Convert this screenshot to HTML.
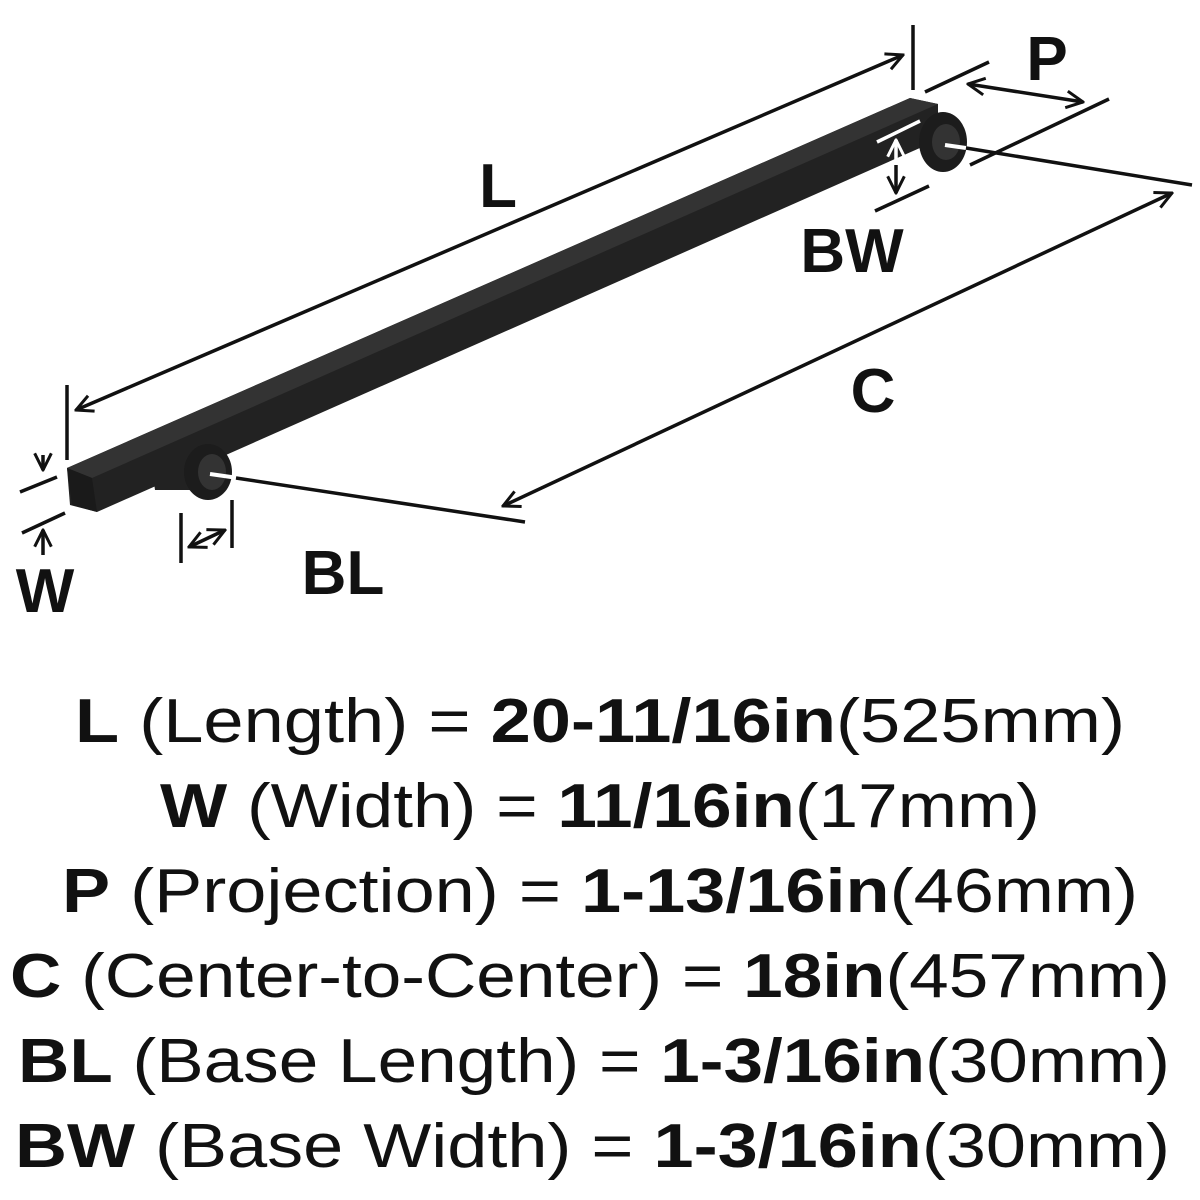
<!DOCTYPE html>
<html><head><meta charset="utf-8"><style>
html,body{margin:0;padding:0;background:#fff;}
svg{display:block;}
text{font-family:"Liberation Sans",sans-serif;fill:#111;}
</style></head><body>
<svg width="1200" height="1200" viewBox="0 0 1200 1200" xmlns="http://www.w3.org/2000/svg">
<defs>
<marker id="a" viewBox="0 0 12 12" refX="11" refY="6" markerWidth="20" markerHeight="20" markerUnits="userSpaceOnUse" orient="auto-start-reverse">
<path d="M1,1 L11,6 L1,11" fill="none" stroke="#111" stroke-width="1.8"/></marker>
<marker id="aw" viewBox="0 0 12 12" refX="11" refY="6" markerWidth="20" markerHeight="20" markerUnits="userSpaceOnUse" orient="auto-start-reverse">
<path d="M1,1 L11,6 L1,11" fill="none" stroke="#fff" stroke-width="1.8"/></marker>
</defs>
<g stroke="#111" stroke-width="3.5" fill="none">
<polygon points="67,468 910,98 938,104 938,140 97,512 70,505" fill="#222" stroke="none"/>
<polygon points="67,468 910,98 938,104 92,478" fill="#333" stroke="none"/>
<polygon points="67,468 92,478 97,512 72,505" fill="#1a1a1a" stroke="none"/>
<path d="M150,455 L200,450 L200,490 L155,490 Z" fill="#222" stroke="none"/>
<ellipse cx="208" cy="472" rx="24" ry="28" fill="#1c1c1c" stroke="none"/>
<ellipse cx="212" cy="472" rx="14" ry="18" fill="#333" stroke="none"/>
<ellipse cx="943" cy="142" rx="24" ry="30" fill="#1c1c1c" stroke="none"/>
<ellipse cx="946" cy="142" rx="14" ry="18" fill="#333" stroke="none"/>
<line x1="210" y1="474" x2="238" y2="478" stroke="#fff" stroke-width="4"/>
<line x1="945" y1="145" x2="966" y2="148" stroke="#fff" stroke-width="4"/>
<line x1="67" y1="385" x2="67" y2="460"/>
<line x1="913" y1="25" x2="913" y2="90"/>
<line x1="76" y1="410" x2="903" y2="55" marker-start="url(#a)" marker-end="url(#a)"/>
<line x1="20" y1="492" x2="57" y2="477"/>
<line x1="22" y1="533" x2="65" y2="513"/>
<line x1="43" y1="455" x2="43" y2="470" marker-end="url(#a)"/>
<line x1="43" y1="555" x2="43" y2="530" marker-end="url(#a)"/>
<line x1="181" y1="513" x2="181" y2="563"/>
<line x1="232" y1="500" x2="232" y2="548"/>
<line x1="189" y1="547" x2="225" y2="530" marker-start="url(#a)" marker-end="url(#a)"/>
<line x1="236" y1="478" x2="525" y2="522"/>
<line x1="966" y1="148" x2="1192" y2="185"/>
<line x1="503" y1="506" x2="1172" y2="193" marker-start="url(#a)" marker-end="url(#a)"/>
<line x1="925" y1="92" x2="989" y2="62"/>
<line x1="970" y1="165" x2="1109" y2="99"/>
<line x1="968" y1="84" x2="1083" y2="102" marker-start="url(#a)" marker-end="url(#a)"/>
<line x1="877" y1="142" x2="920" y2="121" stroke="#fff"/>
<line x1="875" y1="211" x2="929" y2="186"/>
<line x1="896" y1="170" x2="896" y2="140" stroke="#fff" marker-end="url(#aw)"/>
<line x1="896" y1="165" x2="896" y2="193" marker-end="url(#a)"/>
</g>
<g font-size="62" font-weight="bold">
<text x="498" y="207" text-anchor="middle">L</text>
<text x="1047" y="80" text-anchor="middle">P</text>
<text x="852" y="272" text-anchor="middle">BW</text>
<text x="873" y="412" text-anchor="middle">C</text>
<text x="343" y="594" text-anchor="middle">BL</text>
<text x="45" y="612" text-anchor="middle">W</text>
</g>
<g font-size="62">
<text x="75" y="742" textLength="1050" lengthAdjust="spacingAndGlyphs"><tspan font-weight="bold">L</tspan> (Length) = <tspan font-weight="bold">20-11/16in</tspan>(525mm)</text>
<text x="160" y="827" textLength="880" lengthAdjust="spacingAndGlyphs"><tspan font-weight="bold">W</tspan> (Width) = <tspan font-weight="bold">11/16in</tspan>(17mm)</text>
<text x="62" y="912" textLength="1076" lengthAdjust="spacingAndGlyphs"><tspan font-weight="bold">P</tspan> (Projection) = <tspan font-weight="bold">1-13/16in</tspan>(46mm)</text>
<text x="10" y="997" textLength="1160" lengthAdjust="spacingAndGlyphs"><tspan font-weight="bold">C</tspan> (Center-to-Center) = <tspan font-weight="bold">18in</tspan>(457mm)</text>
<text x="18" y="1082" textLength="1152" lengthAdjust="spacingAndGlyphs"><tspan font-weight="bold">BL</tspan> (Base Length) = <tspan font-weight="bold">1-3/16in</tspan>(30mm)</text>
<text x="15" y="1167" textLength="1155" lengthAdjust="spacingAndGlyphs"><tspan font-weight="bold">BW</tspan> (Base Width) = <tspan font-weight="bold">1-3/16in</tspan>(30mm)</text>
</g>
</svg>
</body></html>
